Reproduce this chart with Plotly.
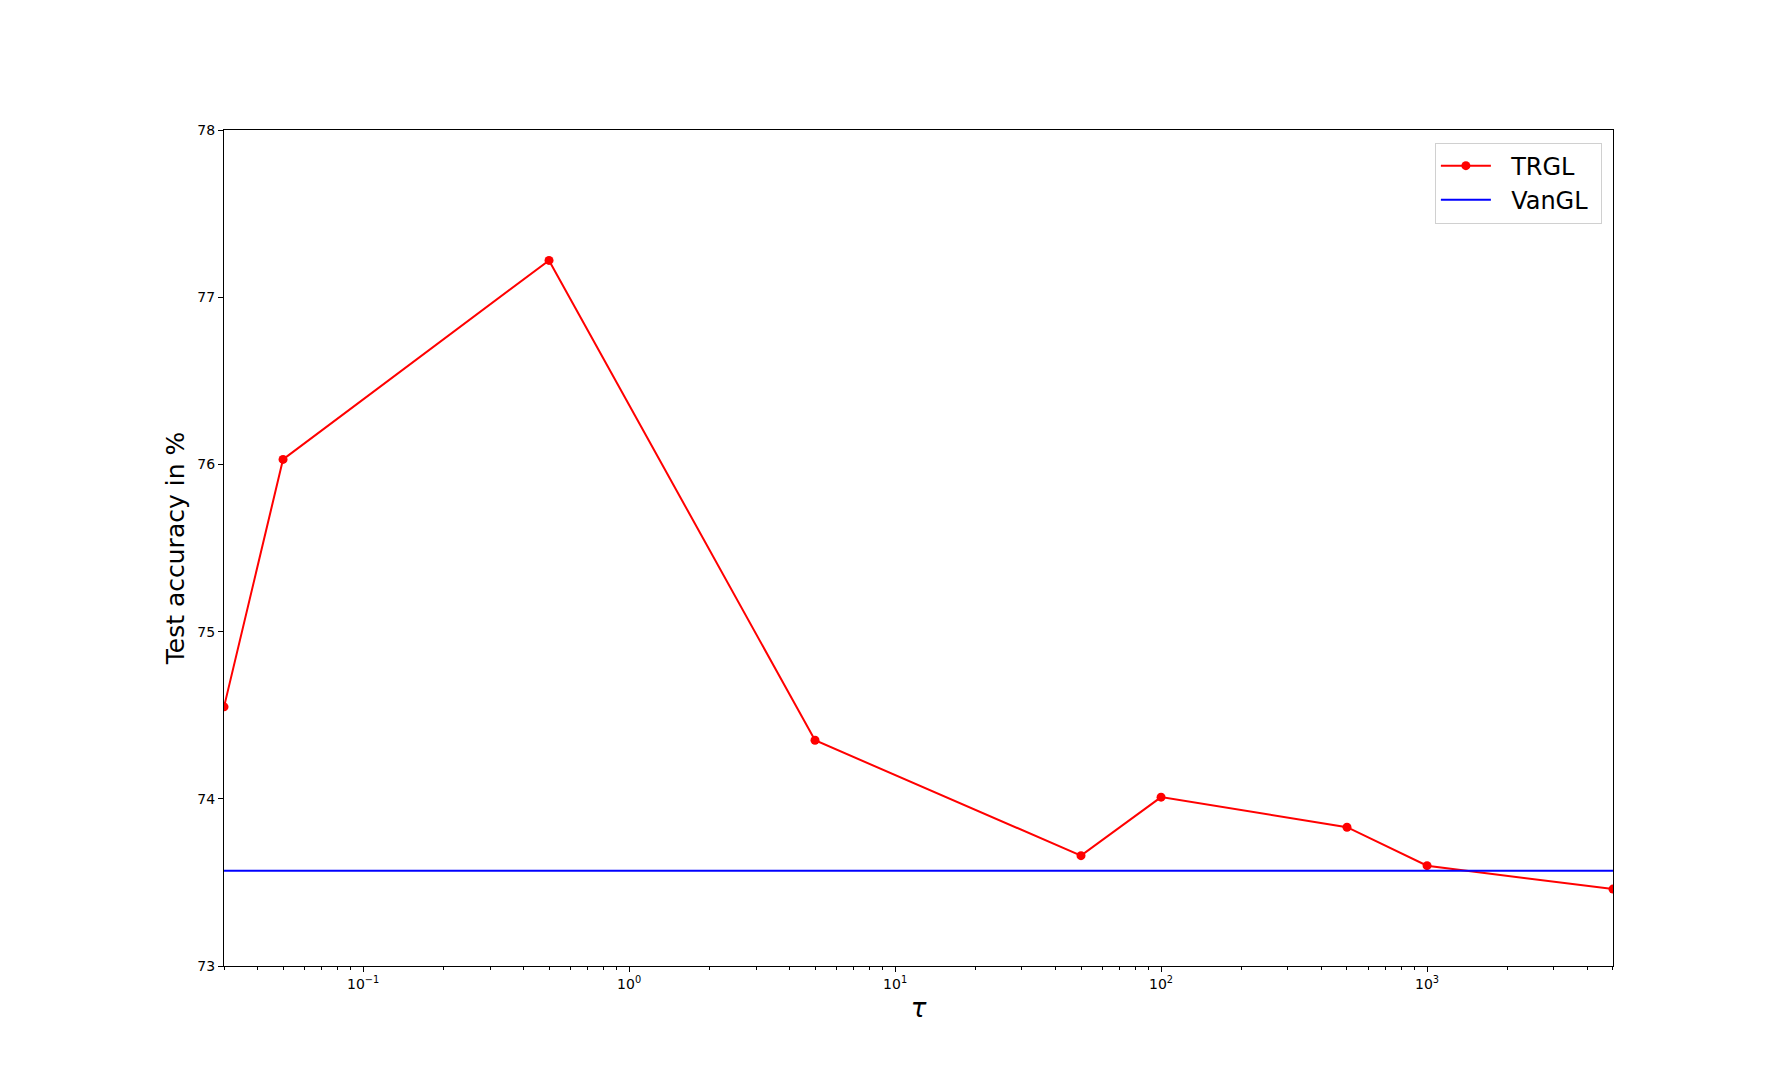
import math
import plotly.graph_objects as go

tau = [0.03, 0.05, 0.5, 5, 50, 100, 500, 1000, 5000]
trgl_acc = [74.55, 76.03, 77.22, 74.35, 73.66, 74.01, 73.83, 73.60, 73.46]
vangl_acc = 73.57
y_ticks = [73, 74, 75, 76, 77, 78]
x_tick_vals = [0.1, 1, 10, 100, 1000]
x_tick_labels = ["10<sup>−1</sup>", "10<sup>0</sup>", "10<sup>1</sup>", "10<sup>2</sup>", "10<sup>3</sup>"]
x_minor_vals = [m * 10.0 ** e for e in range(-2, 4) for m in range(2, 10)]

fig = go.Figure()
fig.add_trace(go.Scatter(
    x=tau, y=trgl_acc, mode="lines+markers", name="\u00a0\u00a0TRGL",
    line=dict(color="red", width=2), marker=dict(color="red", size=9),
))
fig.add_trace(go.Scatter(
    x=[min(tau), max(tau)], y=[vangl_acc, vangl_acc], mode="lines",
    name="\u00a0\u00a0VanGL\u00a0",
    line=dict(color="blue", width=2),
))

font = "DejaVu Sans"
x_lo = math.log10(min(tau)) - 1e-4
x_hi = math.log10(max(tau)) + 1e-4
fig.update_layout(
    width=1792, height=1084,
    paper_bgcolor="white", plot_bgcolor="white",
    margin=dict(l=216, r=187, t=122, b=126),
    font=dict(family=font, size=14, color="black"),
    showlegend=True,
    legend=dict(
        x=0.992, y=0.985, xanchor="right", yanchor="top",
        bordercolor="#d0d0d0", borderwidth=1, bgcolor="rgba(255,255,255,0.8)",
        font=dict(family=font, size=24, color="black"),
        itemwidth=50, tracegroupgap=4,
    ),
    xaxis=dict(
        type="log",
        range=[x_lo, x_hi],
        tickmode="array", tickvals=x_tick_vals, ticktext=x_tick_labels,
        showgrid=False, zeroline=False,
        showline=True, linecolor="black", linewidth=1, mirror=True,
        ticks="outside", ticklen=5, tickcolor="black", tickwidth=1,
        tickfont=dict(family=font, size=14),
        minor=dict(ticks="outside", ticklen=3, tickcolor="black", tickwidth=1,
                   tickmode="array", tickvals=x_minor_vals, showgrid=False),
        title=dict(text="<i>τ</i>", font=dict(family=font, size=26), standoff=8),
    ),
    yaxis=dict(
        range=[73, 78], tickvals=y_ticks,
        showgrid=False, zeroline=False,
        showline=True, linecolor="black", linewidth=1, mirror=True,
        ticks="outside", ticklen=5, tickcolor="black", tickwidth=1,
        tickfont=dict(family=font, size=14),
        title=dict(text="Test accuracy in %", font=dict(family=font, size=25), standoff=5),
    ),
)

fig.write_html("out.html")
